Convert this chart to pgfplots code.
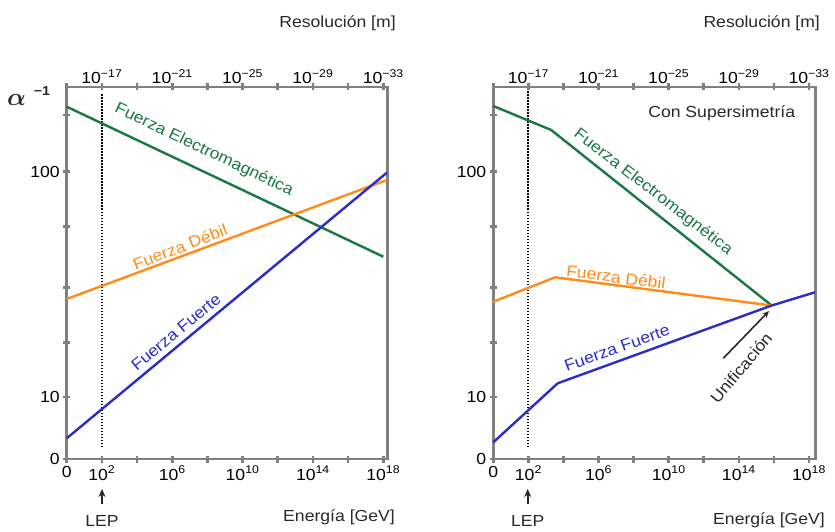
\documentclass[border=0pt]{standalone}
\usepackage{amsmath}
\usepackage{fontspec}
\setmainfont[FakeStretch=1.1]{Liberation Sans}
\usepackage{pgfplots}
\pgfplotsset{compat=1.18}
\usetikzlibrary{arrows.meta}
\definecolor{emg}{RGB}{27,120,68}
\definecolor{weak}{RGB}{255,140,26}
\definecolor{strong}{RGB}{43,43,200}
\definecolor{framec}{RGB}{128,128,128}
\definecolor{txt}{RGB}{40,40,40}

\pgfplotsset{
 base/.style={scale only axis, height=372pt, xmin=0, ymin=0, ymax=372, clip=false,
  axis line style={framec, line width=2.6pt},
  tick align=center, major tick length=7pt, tick style={framec, line width=2.6pt},
  xtick={0,2,...,18},
  xticklabels={0,10\textsuperscript{2},,10\textsuperscript{6},,10\textsuperscript{10},,10\textsuperscript{14},,10\textsuperscript{18}},
  xtick pos=both, xticklabel pos=left,
  ytick={0,62,116.7,171.7,232.3,287.3,344}, yticklabels={0,10,,,,100,}, ytick pos=left,
  tick label style={font=\fontsize{16}{18}\selectfont, black},
 },
 toplab/.style={scale only axis, height=372pt, xmin=0, ymin=0, ymax=372,
  axis line style={draw=none}, tick style={draw=none}, ytick=\empty,
  xtick={2,6,10,14,18},
  xticklabels={10\textsuperscript{−17},10\textsuperscript{−21},10\textsuperscript{−25},10\textsuperscript{−29},10\textsuperscript{−33}},
  xticklabel pos=right,
  tick label style={font=\fontsize{16}{18}\selectfont, black},
 },
 ln/.style={line width=2.4pt},
 dots/.style={black, line width=1.8pt, dash pattern=on 1.5pt off 1.5pt},
}
\newcommand{\lab}{\fontsize{16}{18}\selectfont}

\begin{document}
\begin{tikzpicture}
\path[use as bounding box] (0,0) rectangle (835pt,531pt);

% ---------- left panel ----------
\begin{axis}[base, at={(66.7pt,72pt)}, anchor=south west, width=321pt, xmax=18.25]
\addplot[dots] coordinates {(2,12) (2,366)};
\addplot[ln, emg] coordinates {(0,352.3) (18,202.3)};
\addplot[ln, weak] coordinates {(0,160) (18.2,279)};
\addplot[ln, strong] coordinates {(0,20.7) (18.2,286.3)};
\end{axis}
\begin{axis}[toplab, at={(66.7pt,72pt)}, anchor=south west, width=321pt, xmax=18.25]
\end{axis}

% ---------- right panel ----------
\begin{axis}[base, at={(493.3pt,72pt)}, anchor=south west, width=322.4pt, xmax=18.38]
\addplot[dots] coordinates {(1.96,12) (1.96,368)};
\addplot[ln, emg] coordinates {(0,353) (3.3,329) (15.87,153.5)};
\addplot[ln, weak] coordinates {(0,157.3) (3.52,181.7) (15.87,153.5)};
\addplot[ln, strong] coordinates {(0,16.7) (3.67,75.7) (15.87,153.5) (18.34,166.7)};
\end{axis}
\begin{axis}[toplab, at={(493.3pt,72pt)}, anchor=south west, width=322.4pt, xmax=18.38]
\end{axis}

% ---------- texts ----------
\node[txt] at (16.5pt,431pt) {\fontsize{29}{30}\selectfont$\boldsymbol{\alpha}$};
\node[txt] at (42pt,440pt) {\fontsize{13}{14}\selectfont\bfseries −1};

\node[txt] at (337.5pt,508pt) {\lab Resolución [m]};
\node[txt] at (761.7pt,508pt) {\lab Resolución [m]};
\node[txt] at (339pt,14pt) {\lab Energía [GeV]};
\node[txt] at (769pt,11pt) {\lab Energía [GeV]};

\draw[txt, line width=2pt, -{Stealth[length=8pt,width=7pt]}] (102pt,27pt) -- (102pt,42pt);
\node[txt] at (102pt,10pt) {\lab LEP};
\draw[txt, line width=2pt, -{Stealth[length=8pt,width=7pt]}] (527.7pt,27pt) -- (527.7pt,42pt);
\node[txt] at (527.7pt,10pt) {\lab LEP};

\node[emg, rotate=-25.4] at (204pt,381pt) {\lab Fuerza Electromagnética};
\node[weak, rotate=21] at (180pt,284pt) {\lab Fuerza Débil};
\node[strong, rotate=39.5] at (176pt,199pt) {\lab Fuerza Fuerte};

\node[txt] at (721.7pt,418pt) {\lab Con Supersimetría};
\node[emg, rotate=-37.7] at (653pt,339pt) {\lab Fuerza Electromagnética};
\node[weak, rotate=-7.5] at (616pt,254pt) {\lab Fuerza Débil};
\node[strong, rotate=19.7] at (617pt,183pt) {\lab Fuerza Fuerte};
\node[txt, rotate=50] at (741pt,163pt) {\lab Unificación};
\draw[txt, line width=1.6pt, -{Stealth[length=7pt,width=6pt]}] (723.3pt,172.7pt) -- (769pt,220pt);
\end{tikzpicture}
\end{document}
